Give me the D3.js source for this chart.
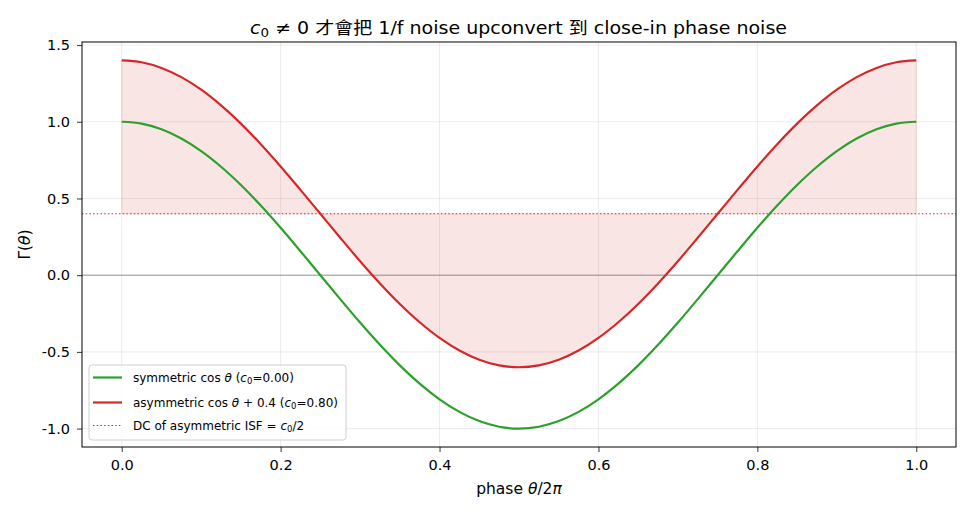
<!DOCTYPE html>
<html>
<head>
  <meta charset="utf-8">
  <script src="https://d3js.org/d3.v7.min.js"></script>
  <style>
    body { margin: 0; background: #fff; }
    text { font-family: "DejaVu Sans", "Noto Sans CJK TC", sans-serif; fill: #000; }
  </style>
</head>
<body>
  <svg width="968" height="512"></svg>

  <script>
    // phase samples (theta / 2pi) and ISF values
    const phase = [0, 0.025, 0.05, 0.075, 0.1, 0.125, 0.15, 0.175, 0.2, 0.225, 0.25,
                   0.275, 0.3, 0.325, 0.35, 0.375, 0.4, 0.425, 0.45, 0.475, 0.5,
                   0.525, 0.55, 0.575, 0.6, 0.625, 0.65, 0.675, 0.7, 0.725, 0.75,
                   0.775, 0.8, 0.825, 0.85, 0.875, 0.9, 0.925, 0.95, 0.975, 1.0];
    const symmetric = [1.0, 0.988, 0.951, 0.891, 0.809, 0.707, 0.588, 0.454, 0.309, 0.156, 0.0,
                       -0.156, -0.309, -0.454, -0.588, -0.707, -0.809, -0.891, -0.951, -0.988, -1.0,
                       -0.988, -0.951, -0.891, -0.809, -0.707, -0.588, -0.454, -0.309, -0.156, 0.0,
                       0.156, 0.309, 0.454, 0.588, 0.707, 0.809, 0.891, 0.951, 0.988, 1.0];
    const asymmetric = [1.4, 1.388, 1.351, 1.291, 1.209, 1.107, 0.988, 0.854, 0.709, 0.556, 0.4,
                        0.244, 0.091, -0.054, -0.188, -0.307, -0.409, -0.491, -0.551, -0.588, -0.6,
                        -0.588, -0.551, -0.491, -0.409, -0.307, -0.188, -0.054, 0.091, 0.244, 0.4,
                        0.556, 0.709, 0.854, 0.988, 1.107, 1.209, 1.291, 1.351, 1.388, 1.4];
    const dcLevel = 0.4;
    const xTicks = [0.0, 0.2, 0.4, 0.6, 0.8, 1.0];
    const yTicks = [-1.0, -0.5, 0.0, 0.5, 1.0, 1.5];

    const svg = d3.select("svg");
    const mL = 82, mR = 956, mT = 42, mB = 447;

    const x = d3.scaleLinear().domain([-0.05, 1.05]).range([mL, mR]);
    const y = d3.scaleLinear().domain([-1.12, 1.52]).range([mB, mT]);

    // grid
    svg.append("g").selectAll("line").data(xTicks).enter().append("line")
      .attr("x1", d => x(d)).attr("x2", d => x(d))
      .attr("y1", mT).attr("y2", mB)
      .attr("stroke", "#b0b0b0").attr("stroke-opacity", 0.3).attr("stroke-width", 0.8);
    svg.append("g").selectAll("line").data(yTicks).enter().append("line")
      .attr("x1", mL).attr("x2", mR)
      .attr("y1", d => y(d)).attr("y2", d => y(d))
      .attr("stroke", "#b0b0b0").attr("stroke-opacity", 0.3).attr("stroke-width", 0.8);

    const pts = phase.map((p, i) => ({ p, s: symmetric[i], a: asymmetric[i] }));

    // fill between asymmetric ISF and its DC level
    svg.append("path")
      .datum(pts)
      .attr("fill", "#d62728").attr("fill-opacity", 0.12)
      .attr("stroke", "#d62728").attr("stroke-opacity", 0.12).attr("stroke-width", 1)
      .attr("d", d3.area().x(d => x(d.p)).y0(y(dcLevel)).y1(d => y(d.a)).curve(d3.curveCatmullRom));

    // zero line
    svg.append("line")
      .attr("x1", mL).attr("x2", mR).attr("y1", y(0)).attr("y2", y(0))
      .attr("stroke", "#808080").attr("stroke-width", 0.8);

    // DC line
    svg.append("line")
      .attr("x1", mL).attr("x2", mR).attr("y1", y(dcLevel)).attr("y2", y(dcLevel))
      .attr("stroke", "#d62728").attr("stroke-width", 1.1).attr("stroke-dasharray", "1.5,2.2");

    const line = key => d3.line().x(d => x(d.p)).y(d => y(d[key])).curve(d3.curveCatmullRom);
    svg.append("path").datum(pts).attr("fill", "none")
      .attr("stroke", "#2ca02c").attr("stroke-width", 2.2).attr("d", line("s"));
    svg.append("path").datum(pts).attr("fill", "none")
      .attr("stroke", "#d62728").attr("stroke-width", 2.2).attr("d", line("a"));

    // axes
    const fmt = d => d.toFixed(1);
    const xAxis = svg.append("g").attr("transform", `translate(0,${mB})`)
      .call(d3.axisBottom(x).tickValues(xTicks).tickFormat(fmt).tickSize(5).tickPadding(8));
    const yAxis = svg.append("g").attr("transform", `translate(${mL},0)`)
      .call(d3.axisLeft(y).tickValues(yTicks).tickFormat(fmt).tickSize(5).tickPadding(7));
    [xAxis, yAxis].forEach(a => {
      a.select(".domain").remove();
      a.attr("font-family", null).attr("font-size", null);
      a.selectAll("text").style("font-size", "14.5px").attr("fill", "#000");
      a.selectAll("line").attr("stroke", "#000").attr("stroke-width", 0.8);
    });

    svg.append("rect")
      .attr("x", mL).attr("y", mT).attr("width", mR - mL).attr("height", mB - mT)
      .attr("fill", "none").attr("stroke", "#000").attr("stroke-width", 1);

    // labels
    svg.append("text").attr("x", 250).attr("y", 34)
      .attr("font-size", 17)
      .attr("textLength", 537).attr("lengthAdjust", "spacingAndGlyphs")
      .html('<tspan font-style="italic">c</tspan><tspan font-size="12" dy="3">0</tspan><tspan dy="-3"> ≠ 0 才會把 1/f noise upconvert 到 close-in phase noise</tspan>');

    svg.append("text").attr("x", (mL + mR) / 2).attr("y", 494)
      .attr("text-anchor", "middle").attr("font-size", 15.5)
      .html('phase <tspan font-style="italic">θ</tspan>/2<tspan font-style="italic">π</tspan>');

    svg.append("text").attr("transform", `translate(30,${(mT + mB) / 2}) rotate(-90)`)
      .attr("text-anchor", "middle").attr("font-size", 15.5)
      .html('Γ(<tspan font-style="italic">θ</tspan>)');

    // legend
    const lg = svg.append("g").attr("transform", "translate(89,365)");
    lg.append("rect").attr("width", 257).attr("height", 75).attr("rx", 3)
      .attr("fill", "#fff").attr("fill-opacity", 0.8).attr("stroke", "#d0d0d0");
    const items = [
      { c: "#2ca02c", dash: null, w: 2.2, yy: 12.5,
        t: 'symmetric cos <tspan font-style="italic">θ</tspan> (<tspan font-style="italic">c</tspan><tspan font-size="8.5" dy="2">0</tspan><tspan dy="-2">=0.00)</tspan>' },
      { c: "#d62728", dash: null, w: 2.2, yy: 37.5,
        t: 'asymmetric cos <tspan font-style="italic">θ</tspan> + 0.4 (<tspan font-style="italic">c</tspan><tspan font-size="8.5" dy="2">0</tspan><tspan dy="-2">=0.80)</tspan>' },
      { c: "#d62728", dash: "1.5,2.2", w: 1.1, yy: 60.5,
        t: 'DC of asymmetric ISF = <tspan font-style="italic">c</tspan><tspan font-size="8.5" dy="2">0</tspan><tspan dy="-2">/2</tspan>' }
    ];
    items.forEach(it => {
      lg.append("line").attr("x1", 4).attr("x2", 33).attr("y1", it.yy).attr("y2", it.yy)
        .attr("stroke", it.c).attr("stroke-width", it.w).attr("stroke-dasharray", it.dash);
      lg.append("text").attr("x", 44).attr("y", it.yy + 4.5).attr("font-size", 12).html(it.t);
    });
  </script>
</body>
</html>
